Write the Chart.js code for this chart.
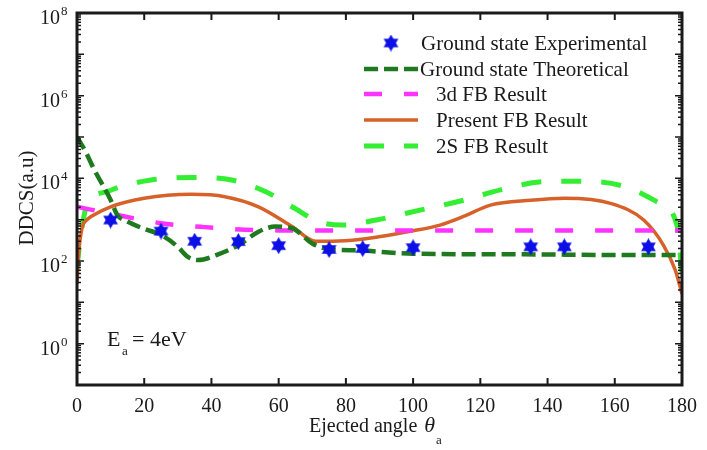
<!DOCTYPE html>
<html lang="en">
<head>
    <meta charset="UTF-8">
    <title>DDCS vs ejected angle</title>
    <script src="https://cdn.jsdelivr.net/npm/chart.js"></script>
    <style>
        body { margin: 0; background: #fff; }
        canvas { display: block; }
    </style>
</head>
<body>
    <canvas id="chart" width="707" height="450"></canvas>
    <script>
        // --- Data (angle in degrees, DDCS in a.u.) ---
        const expAngle = [10, 25, 35, 48, 60, 75, 85, 100, 135, 145, 170];
        const expDDCS = [980, 530, 300, 295, 235, 190, 200, 210, 220, 220, 220];

        const gsTheoryAngle = [0, 2.5, 5, 10, 12, 15, 20, 25, 30, 33, 36, 42, 48, 54, 59, 64, 70, 74, 84, 100, 133, 160, 180];
        const gsTheoryDDCS = [1.0e5, 4.5e4, 1.7e4, 3000, 1300, 900, 600, 430, 220, 125, 105, 145, 240, 510, 680, 620, 265, 200, 180, 150, 145, 140, 140];

        const fb3dAngle = [0, 10, 25, 37, 50, 60, 80, 120, 180];
        const fb3dDDCS = [2050, 1400, 820, 670, 570, 550, 545, 545, 545];

        const presentAngle = [0, 0.5, 1.5, 3, 5, 10, 20, 34, 44, 54, 64, 71, 76, 84, 100, 108, 115, 123, 135, 145, 159, 168.6, 174.5, 178, 180];
        const presentDDCS = [28, 150, 620, 1000, 1300, 2050, 3300, 4100, 3600, 2050, 680, 300, 300, 330, 540, 740, 1200, 2250, 2950, 3300, 2450, 980, 240, 60, 16];

        const fb2sAngle = [0, 1, 3, 9, 13, 22, 34, 46, 56, 64, 72, 79, 89, 102, 115, 126, 139, 151, 163, 172.6, 178.5, 180];
        const fb2sDDCS = [70, 350, 2300, 4800, 6300, 9100, 10500, 9100, 4800, 2050, 890, 740, 980, 1700, 2950, 5250, 8300, 8500, 6300, 2700, 740, 50];

        const xTicks = [0, 20, 40, 60, 80, 100, 120, 140, 160, 180];
        const yLabelPowers = [0, 2, 4, 6, 8];

        const toXY = (xs, ys) => xs.map((x, i) => ({ x: x, y: ys[i] }));

        // --- Six pointed star marker ---
        function makeStar(size, color) {
            const c = document.createElement('canvas');
            c.width = size; c.height = size;
            const g = c.getContext('2d');
            const r = size / 2, cx = size / 2, cy = size / 2;
            g.fillStyle = color;
            [-90, 90].forEach(start => {
                g.beginPath();
                for (let k = 0; k < 3; k++) {
                    const a = (start + k * 120) * Math.PI / 180;
                    const px = cx + r * Math.cos(a), py = cy + r * Math.sin(a);
                    if (k === 0) g.moveTo(px, py); else g.lineTo(px, py);
                }
                g.closePath();
                g.fill();
            });
            return c;
        }
        const starImg = makeStar(17, '#0d10e6');

        const serif = "'Liberation Serif', 'Times New Roman', serif";
        const ink = '#1a1a1a';

        // --- Frame, inward ticks, log labels, axis titles, legend ---
        const decorations = {
            id: 'decorations',
            afterDraw(chart) {
                const { ctx, chartArea: a, scales: { x, y } } = chart;
                ctx.save();
                ctx.strokeStyle = ink;

                // ticks on all four sides
                ctx.lineWidth = 2;
                xTicks.forEach(v => {
                    const px = x.getPixelForValue(v);
                    ctx.beginPath();
                    ctx.moveTo(px, a.bottom); ctx.lineTo(px, a.bottom - 7);
                    ctx.moveTo(px, a.top); ctx.lineTo(px, a.top + 7);
                    ctx.stroke();
                });
                ctx.lineWidth = 1.5;
                for (let e = -1; e <= 8; e++) {
                    for (let m = 1; m <= 9; m++) {
                        const v = m * Math.pow(10, e);
                        if (v < 0.1 || v > 1e8) continue;
                        const py = y.getPixelForValue(v);
                        const len = m === 1 ? 7 : 4;
                        ctx.beginPath();
                        ctx.moveTo(a.left, py); ctx.lineTo(a.left + len, py);
                        ctx.moveTo(a.right, py); ctx.lineTo(a.right - len, py);
                        ctx.stroke();
                    }
                }

                // box
                ctx.lineWidth = 3;
                ctx.strokeRect(a.left, a.top, a.right - a.left, a.bottom - a.top);

                // y tick labels 10^n
                ctx.fillStyle = ink;
                ctx.textBaseline = 'alphabetic';
                yLabelPowers.forEach(p => {
                    const py = y.getPixelForValue(Math.pow(10, p));
                    ctx.font = '20px ' + serif;
                    ctx.textAlign = 'right';
                    ctx.fillText('10', 60, py + 11);
                    ctx.font = '13px ' + serif;
                    ctx.textAlign = 'left';
                    ctx.fillText(String(p), 61, py + 2);
                });

                // y title
                ctx.save();
                ctx.translate(27, 198);
                ctx.rotate(-Math.PI / 2);
                ctx.font = '21px ' + serif;
                ctx.textAlign = 'center';
                ctx.textBaseline = 'middle';
                ctx.fillText('DDCS(a.u)', 0, 0);
                ctx.restore();

                // x title: Ejected angle θa
                ctx.textAlign = 'left';
                ctx.font = '20px ' + serif;
                const t1 = 'Ejected angle ';
                let tx = 309;
                ctx.fillText(t1, tx, 432);
                tx += ctx.measureText(t1).width + 2;
                ctx.font = 'italic 22px ' + serif;
                ctx.fillText('\u03B8', tx, 432);
                tx += ctx.measureText('\u03B8').width + 1;
                ctx.font = '13px ' + serif;
                ctx.fillText('a', tx, 444);

                // annotation E_a = 4eV
                ctx.font = '22px ' + serif;
                ctx.fillText('E', 107, 346);
                ctx.font = '13px ' + serif;
                ctx.fillText('a', 122, 355);
                ctx.font = '22px ' + serif;
                ctx.fillText('= 4eV', 132, 346);

                // legend
                const rows = [
                    { ds: 0, y: 43, tx: 421 },
                    { ds: 1, y: 69, tx: 420 },
                    { ds: 2, y: 94, tx: 436 },
                    { ds: 3, y: 120, tx: 436 },
                    { ds: 4, y: 146, tx: 436 }
                ];
                ctx.font = '21px ' + serif;
                ctx.textBaseline = 'middle';
                rows.forEach(r => {
                    const d = chart.data.datasets[r.ds];
                    if (d.showLine === false) {
                        ctx.drawImage(starImg, 391 - starImg.width / 2, r.y - starImg.height / 2);
                    } else {
                        ctx.save();
                        ctx.strokeStyle = d.borderColor;
                        ctx.lineWidth = d.borderWidth;
                        ctx.setLineDash(d.borderDash || []);
                        ctx.beginPath();
                        ctx.moveTo(364, r.y); ctx.lineTo(418, r.y);
                        ctx.stroke();
                        ctx.restore();
                    }
                    ctx.fillStyle = ink;
                    ctx.fillText(d.label, r.tx, r.y + 1);
                });
                ctx.restore();
            }
        };

        new Chart(document.getElementById('chart'), {
            type: 'line',
            data: {
                datasets: [
                    {
                        label: 'Ground state Experimental',
                        data: toXY(expAngle, expDDCS),
                        showLine: false,
                        pointStyle: starImg,
                        pointRadius: 8,
                        borderColor: '#0d10e6',
                        backgroundColor: '#0d10e6'
                    },
                    {
                        label: 'Ground state Theoretical',
                        data: toXY(gsTheoryAngle, gsTheoryDDCS),
                        borderColor: '#1f7a1f',
                        borderWidth: 4.5,
                        borderDash: [14, 6],
                        pointRadius: 0,
                        cubicInterpolationMode: 'monotone'
                    },
                    {
                        label: '3d FB Result',
                        data: toXY(fb3dAngle, fb3dDDCS),
                        borderColor: '#ff33ff',
                        borderWidth: 4.5,
                        borderDash: [18, 22],
                        pointRadius: 0,
                        cubicInterpolationMode: 'monotone'
                    },
                    {
                        label: 'Present FB Result',
                        data: toXY(presentAngle, presentDDCS),
                        borderColor: '#d6622a',
                        borderWidth: 3.5,
                        pointRadius: 0,
                        cubicInterpolationMode: 'monotone'
                    },
                    {
                        label: '2S FB Result',
                        data: toXY(fb2sAngle, fb2sDDCS),
                        borderColor: '#33ee33',
                        borderWidth: 5,
                        borderDash: [20, 20],
                        pointRadius: 0,
                        cubicInterpolationMode: 'monotone'
                    }
                ]
            },
            options: {
                responsive: false,
                animation: false,
                layout: { padding: { top: 13, right: 17, left: 0, bottom: 0 } },
                plugins: { legend: { display: false }, tooltip: { enabled: false } },
                scales: {
                    x: {
                        type: 'linear',
                        min: 0,
                        max: 180,
                        ticks: {
                            stepSize: 20,
                            maxRotation: 0,
                            padding: 10,
                            color: ink,
                            font: { family: serif, size: 20 }
                        },
                        grid: { display: false, drawTicks: false },
                        border: { display: false },
                        afterFit(s) { s.height = 65; }
                    },
                    y: {
                        type: 'logarithmic',
                        min: 0.1,
                        max: 1e8,
                        ticks: { display: false },
                        grid: { display: false, drawTicks: false },
                        border: { display: false },
                        afterFit(s) { s.width = 77; }
                    }
                }
            },
            plugins: [decorations]
        });
    </script>
</body>
</html>
